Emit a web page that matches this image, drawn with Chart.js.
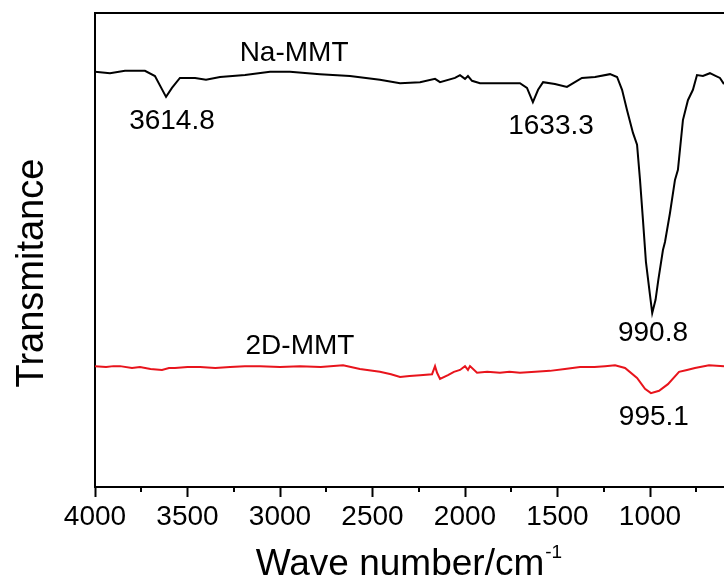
<!DOCTYPE html>
<html>
<head>
<meta charset="utf-8">
<script src="https://cdn.jsdelivr.net/npm/chart.js@4.4.1/dist/chart.umd.min.js"></script>
<style>
  body { margin: 0; background: #fff; overflow: hidden; }
  #ftir { display: block; }
</style>
</head>
<body>
<canvas id="ftir" width="724" height="582"></canvas>
<script>
// Na-MMT spectrum (black), wave number in cm-1 and transmittance (a.u.)
var naWave = [4000, 3919, 3838, 3730, 3676, 3616, 3584, 3541, 3459, 3400, 3324, 3189, 3054, 2946, 2784, 2622,
  2460, 2351, 2243, 2162, 2135, 2054, 2027, 2000, 1984, 1962, 1919, 1811, 1703, 1665, 1633, 1605, 1578, 1514,
  1449, 1406, 1368, 1297, 1216, 1178, 1151, 1124, 1092, 1070, 1054, 1038, 1022, 1000, 988, 970, 955, 930, 919,
  892, 865, 849, 822, 795, 768, 746, 714, 676, 643, 622, 600];
var naT = [87.6, 87.3, 87.8, 87.8, 86.7, 82.3, 84.2, 86.3, 86.3, 85.9, 86.5, 86.9, 87.6, 87.6, 87.1, 86.7,
  85.9, 85.2, 85.4, 86.1, 85.4, 86.3, 86.9, 86.1, 86.7, 85.7, 85.2, 85.2, 85.2, 84.2, 81.2, 83.8, 85.4, 85.0,
  84.4, 85.4, 86.3, 86.5, 87.1, 86.5, 83.8, 79.5, 74.7, 72.2, 64.8, 56.3, 47.5, 40.5, 36.7, 39.5, 43.7, 50.0, 51.7,
  57.8, 64.8, 66.9, 77.4, 81.6, 83.8, 86.9, 86.7, 87.3, 86.7, 86.3, 85.0];

// 2D-MMT spectrum (red)
var dWave = [4000, 3940, 3900, 3865, 3800, 3757, 3700, 3638, 3600, 3568, 3500, 3432, 3350, 3270, 3190, 3108,
  3000, 2892, 2780, 2659, 2568, 2460, 2400, 2351, 2300, 2243, 2178, 2162, 2151, 2135, 2092, 2060, 2027, 2000,
  1984, 1973, 1935, 1880, 1811, 1760, 1703, 1620, 1541, 1460, 1378, 1300, 1243, 1189, 1135, 1070, 1027,
  995, 951, 903, 843, 800, 757, 681, 600];
var dT = [25.5, 25.3, 25.5, 25.5, 25.1, 25.3, 24.9, 24.7, 25.1, 25.1, 25.3, 25.3, 25.1, 25.3, 25.5, 25.5,
  25.3, 25.5, 25.3, 25.7, 24.9, 24.3, 23.8, 23.2, 23.4, 23.6, 23.8, 25.5, 24.1, 22.8, 23.6, 24.3, 24.7, 25.5,
  24.7, 25.5, 24.1, 24.3, 24.1, 24.3, 24.1, 24.3, 24.5, 24.9, 25.3, 25.3, 25.5, 25.7, 25.1, 23.0, 20.7,
  19.8, 20.3, 21.7, 24.3, 24.7, 25.1, 25.7, 25.5];

var majorTicks = [4000, 3500, 3000, 2500, 2000, 1500, 1000];
var minorTicks = [3750, 3250, 2750, 2250, 1750, 1250, 750];

// peak and curve labels, anchored in data units
var labelText = ["Na-MMT", "3614.8", "1633.3", "990.8", "2D-MMT", "995.1"];
var labelWave = [2924, 3584, 1535, 984, 2892, 979];
var labelT    = [91.6, 77.2, 76.2, 32.5, 29.7, 14.8];

var FONT = "'Liberation Sans', Arial, sans-serif";

function pts(xs, ys) {
  return xs.map(function (x, i) { return { x: x, y: ys[i] }; });
}

var decor = {
  id: 'decor',
  afterDraw: function (chart) {
    var ctx = chart.ctx, a = chart.chartArea;
    var xs = chart.scales.x, ys = chart.scales.y;
    ctx.save();
    ctx.strokeStyle = '#000';
    ctx.lineWidth = 2;
    // top frame line
    ctx.beginPath();
    ctx.moveTo(a.left, a.top);
    ctx.lineTo(a.right, a.top);
    ctx.stroke();
    // minor ticks
    minorTicks.forEach(function (v) {
      var px = Math.round(xs.getPixelForValue(v));
      ctx.beginPath();
      ctx.moveTo(px, a.bottom);
      ctx.lineTo(px, a.bottom + 5);
      ctx.stroke();
    });
    ctx.fillStyle = '#000';
    // labels on curves
    ctx.font = '28px ' + FONT;
    ctx.textAlign = 'center';
    ctx.textBaseline = 'middle';
    for (var i = 0; i < labelText.length; i++) {
      ctx.fillText(labelText[i], xs.getPixelForValue(labelWave[i]), ys.getPixelForValue(labelT[i]));
    }
    // x axis title with superscript
    ctx.textBaseline = 'alphabetic';
    ctx.textAlign = 'left';
    ctx.font = '37px ' + FONT;
    var main = 'Wave number/cm';
    var w = ctx.measureText(main).width;
    var x0 = 400 - w / 2;
    ctx.fillText(main, x0, 575);
    ctx.font = '19px ' + FONT;
    ctx.fillText('-1', x0 + w + 1, 558);
    // y axis title
    ctx.translate(43, 273);
    ctx.rotate(-Math.PI / 2);
    ctx.textAlign = 'center';
    ctx.font = '38px ' + FONT;
    ctx.fillText('Transmitance', 0, 0);
    ctx.restore();
  }
};

new Chart(document.getElementById('ftir'), {
  type: 'line',
  data: {
    datasets: [
      { label: 'Na-MMT', data: pts(naWave, naT), borderColor: '#000', borderWidth: 2, pointRadius: 0, tension: 0 },
      { label: '2D-MMT', data: pts(dWave, dT), borderColor: '#e8141c', borderWidth: 2, pointRadius: 0, tension: 0 }
    ]
  },
  options: {
    responsive: false,
    animation: false,
    devicePixelRatio: 1,
    layout: { padding: { top: 13, right: 0, left: 0, bottom: 0 } },
    plugins: { legend: { display: false }, tooltip: { enabled: false } },
    scales: {
      x: {
        type: 'linear',
        reverse: true,
        min: 600,
        max: 4000,
        afterBuildTicks: function (s) { s.ticks = majorTicks.map(function (v) { return { value: v }; }); },
        afterFit: function (s) { s.height = 95; },
        ticks: {
          color: '#000', font: { family: FONT, size: 28 }, padding: 3, maxRotation: 0, autoSkip: false,
          callback: function (v) { return String(v); }
        },
        grid: { drawOnChartArea: false, tickLength: 10, tickWidth: 2, tickColor: '#000', color: '#000' },
        border: { color: '#000', width: 2 }
      },
      y: {
        min: 0,
        max: 100,
        afterFit: function (s) { s.width = 95; },
        ticks: { display: false },
        grid: { display: false },
        border: { display: true, color: '#000', width: 2 }
      }
    }
  },
  plugins: [decor]
});
</script>
</body>
</html>
